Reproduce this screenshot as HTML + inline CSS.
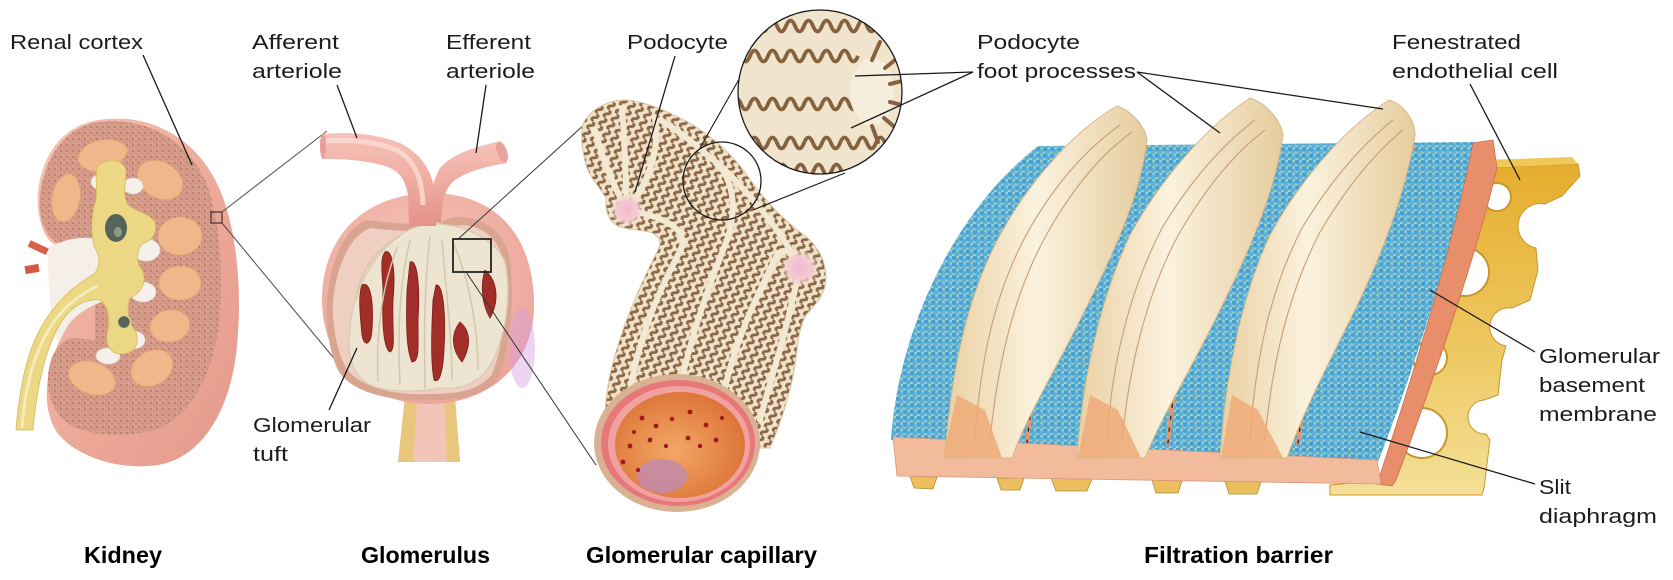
<!DOCTYPE html>
<html><head><meta charset="utf-8"><style>
html,body{margin:0;padding:0;background:#fff;}
svg{display:block;}
text{font-family:"Liberation Sans",sans-serif;fill:#1c1c1c;}
.lb{font-size:20.5px;}
.bt{font-size:23px;font-weight:bold;fill:#000;}
.ln{stroke:#1a1a1a;stroke-width:1.3;fill:none;}
</style></head><body>
<svg width="1673" height="580" viewBox="0 0 1673 580" xmlns="http://www.w3.org/2000/svg">
<defs>
  <linearGradient id="capsG" x1="0" y1="0" x2="1" y2="1">
    <stop offset="0" stop-color="#f5c4b4"/><stop offset="0.6" stop-color="#eca696"/><stop offset="1" stop-color="#e39a8c"/>
  </linearGradient>
  <pattern id="speck" patternUnits="userSpaceOnUse" width="6" height="6">
    <rect width="6" height="6" fill="#d59a88"/>
    <circle cx="1" cy="1" r="0.9" fill="#b0705f"/>
    <circle cx="4" cy="3.5" r="0.8" fill="#c2857a"/>
    <circle cx="2.5" cy="5" r="0.6" fill="#e6b8a6"/>
  </pattern>
  <radialGradient id="glomG" cx="0.45" cy="0.4" r="0.6">
    <stop offset="0" stop-color="#f8ccc2"/><stop offset="1" stop-color="#eca69a"/>
  </radialGradient>
  <linearGradient id="artG" x1="0" y1="0" x2="0" y2="1">
    <stop offset="0" stop-color="#f6c2b8"/><stop offset="0.5" stop-color="#f0aca2"/><stop offset="1" stop-color="#e39288"/>
  </linearGradient>
  <pattern id="wav" patternUnits="userSpaceOnUse" width="9" height="9" patternTransform="rotate(-62)">
    <rect width="9" height="9" fill="#efe2c8"/>
    <path d="M0,4.5 Q2.25,0 4.5,4.5 T9,4.5" stroke="#8a6546" stroke-width="2.8" fill="none"/>
  </pattern>
  <radialGradient id="podoG" cx="0.5" cy="0.5" r="0.5">
    <stop offset="0" stop-color="#f2b8cc"/><stop offset="0.6" stop-color="#f4cad4"/><stop offset="1" stop-color="#f1e2cc" stop-opacity="0"/>
  </radialGradient>
  <radialGradient id="lumG" cx="0.45" cy="0.55" r="0.6">
    <stop offset="0" stop-color="#f2a866"/><stop offset="1" stop-color="#dc7136"/>
  </radialGradient>
  <pattern id="dots" patternUnits="userSpaceOnUse" width="7" height="6.4">
    <rect width="7" height="6.4" fill="#9fd0c2"/>
    <circle cx="1.75" cy="1.6" r="2.7" fill="#45a0d8"/>
    <circle cx="5.25" cy="4.8" r="2.7" fill="#5cb0d8"/>
  </pattern>
  <linearGradient id="ridgeG" x1="0" y1="0" x2="1" y2="0">
    <stop offset="0" stop-color="#ead0a2"/><stop offset="0.45" stop-color="#fbf2de"/><stop offset="1" stop-color="#e6cc9e"/>
  </linearGradient>
  <linearGradient id="yelG" x1="0" y1="0" x2="0" y2="1">
    <stop offset="0" stop-color="#e5ad2e"/><stop offset="0.55" stop-color="#edc860"/><stop offset="1" stop-color="#f4e098"/>
  </linearGradient>
  <clipPath id="capClip">
    <path d="M583,124 C588,112 605,101 622,100 C640,100 660,108 680,118 C705,130 728,150 745,172 C760,195 778,215 800,232 C815,242 826,258 826,278 C826,295 815,305 806,315 C798,330 798,345 795,365 C790,395 780,425 770,448 L610,448 C602,420 605,390 615,355 C625,320 640,285 658,250 C662,242 660,236 650,232 C640,230 630,230 620,227 C608,222 605,210 606,198 C600,188 590,178 586,165 C582,150 580,135 583,124 Z"/>
  </clipPath>
  <clipPath id="bigClip"><circle cx="820" cy="92" r="82"/></clipPath>
</defs>

<!-- ================= KIDNEY ================= -->
<path d="M98,120 C150,112 198,138 220,190 C240,238 242,305 236,355 C228,415 200,458 158,465 C118,471 78,456 60,436 C44,418 44,385 52,360 L60,338 L50,300 L55,245 C42,238 36,212 38,192 C42,155 62,126 98,120 Z" fill="url(#capsG)"/>
<path d="M98,122 C145,116 188,140 206,182 C222,225 224,290 218,330 C210,380 190,415 160,428 C130,438 98,436 76,428 C58,420 47,400 48,378 C49,356 58,342 72,338 L95,340 L95,243 L65,246 C48,243 38,220 40,198 C43,160 64,127 98,122 Z" fill="url(#speck)"/>
<g fill="#f0b88a" stroke="#e4a474" stroke-width="0.8">
  <path d="M78,160 C80,138 120,132 128,150 C122,165 110,172 100,172 C90,172 80,168 78,160 Z"/>
  <ellipse cx="66" cy="198" rx="14" ry="24" transform="rotate(10 66 198)"/>
  <ellipse cx="160" cy="180" rx="24" ry="18" transform="rotate(30 160 180)"/>
  <ellipse cx="180" cy="236" rx="22" ry="19"/>
  <ellipse cx="180" cy="283" rx="21" ry="17"/>
  <ellipse cx="170" cy="326" rx="20" ry="16" transform="rotate(-10 170 326)"/>
  <ellipse cx="152" cy="368" rx="22" ry="17" transform="rotate(-30 152 368)"/>
  <ellipse cx="92" cy="378" rx="24" ry="16" transform="rotate(20 92 378)"/>
</g>
<path d="M48,248 C68,236 98,234 110,245 L114,300 C100,300 80,310 68,325 L58,344 C50,320 48,280 48,248 Z" fill="#f6efe8"/>
<g fill="#f6f0ea" stroke="#e2d2c6" stroke-width="0.8">
  <ellipse cx="102" cy="182" rx="11" ry="8"/>
  <ellipse cx="133" cy="186" rx="10" ry="8"/>
  <ellipse cx="146" cy="250" rx="14" ry="11"/>
  <ellipse cx="143" cy="292" rx="13" ry="10"/>
  <ellipse cx="134" cy="340" rx="11" ry="9"/>
  <ellipse cx="108" cy="356" rx="12" ry="8"/>
</g>
<path d="M98,166 C106,158 122,158 126,170 C126,185 122,195 128,205 C136,212 148,212 155,222 C158,234 150,242 142,244 C136,252 136,262 142,270 C148,282 140,294 130,298 C126,310 128,322 136,332 C140,344 134,354 122,354 C110,354 104,344 108,330 C110,318 108,305 100,300 C86,298 72,306 62,321 C48,343 38,376 33,430 L16,430 C19,390 27,350 43,324 C57,300 77,284 94,274 C101,266 100,255 94,246 C90,230 92,212 96,200 C98,190 94,178 98,166 Z" fill="#ecd785" stroke="#d4bd5c" stroke-width="0.8"/>
<path d="M22,428 C25,385 35,348 55,320 C69,302 84,292 98,286" stroke="#f7ebbb" stroke-width="3" fill="none"/>
<ellipse cx="116" cy="228" rx="11" ry="14" fill="#56645a"/>
<ellipse cx="118" cy="232" rx="4" ry="5" fill="#8c9a88"/>
<circle cx="124" cy="322" r="6.5" fill="#56645a" stroke="#e8d582" stroke-width="1.5"/>
<rect x="28" y="244" width="20" height="7" fill="#d8604c" transform="rotate(25 38 248)"/>
<rect x="25" y="265" width="14" height="8" fill="#d45a48" transform="rotate(-10 32 269)"/>
<rect x="211" y="212" width="11" height="11" fill="none" stroke="#4a3a36" stroke-width="1.3"/>
<line x1="222" y1="212" x2="327" y2="131" stroke="#555" stroke-width="1.1"/>
<line x1="222" y1="223" x2="337" y2="362" stroke="#555" stroke-width="1.1"/>

<!-- ================= GLOMERULUS ================= -->
<path d="M405,396 L455,396 L460,462 L398,462 Z" fill="#f1c6b8"/>
<path d="M405,398 L417,398 L413,462 L398,462 Z" fill="#e8c67c"/>
<path d="M444,398 L455,398 L460,462 L447,462 Z" fill="#e8c67c"/>
<path d="M322,300 C322,240 360,195 430,193 C500,193 534,240 534,305 C534,360 495,403 430,404 C365,404 322,360 322,300 Z" fill="url(#glomG)"/>
<ellipse cx="522" cy="348" rx="13" ry="40" fill="#d6a0e2" opacity="0.45"/>
<path d="M327,300 C330,260 345,228 367,220 C385,222 400,224 418,224 L437,224 C447,218 457,215 470,218 C490,222 505,235 510,260 C515,300 510,350 498,378 C485,396 460,400 430,400 C390,402 350,392 338,370 C328,350 326,320 327,300 Z" fill="#d9a591"/>
<path d="M333,302 C336,266 350,236 370,228 C386,230 402,231 420,231 L437,231 C448,226 458,224 470,226 C488,230 500,242 504,264 C508,302 503,348 492,374 C480,390 458,394 430,394 C393,396 356,386 345,366 C336,348 332,322 333,302 Z" fill="#efcfc2"/>
<path d="M437,224 C460,224 495,238 505,262 C512,295 506,335 492,362 C482,382 462,390 440,388 C420,392 398,392 378,388 C356,382 346,362 350,330 C352,295 370,255 405,232 C415,226 427,224 437,224 Z" fill="#ede5d1" stroke="#d6cbb0" stroke-width="1.2"/>
<g fill="#a12e28" stroke="#7e1e18" stroke-width="0.8">
  <path d="M362,285 C370,280 374,300 372,330 C371,345 364,348 362,335 C360,315 358,295 362,285 Z"/>
  <path d="M385,252 C392,248 396,270 393,300 C392,330 396,350 390,352 C383,348 382,320 383,290 C382,270 380,258 385,252 Z"/>
  <path d="M410,262 C418,258 420,290 418,320 C418,345 420,362 412,362 C406,350 406,320 407,290 Z"/>
  <path d="M436,285 C444,283 446,320 444,350 C443,370 440,384 434,380 C430,360 432,320 433,300 Z"/>
  <path d="M460,322 C470,330 472,345 462,362 C452,350 450,335 460,322 Z"/>
  <path d="M485,270 C497,280 500,300 490,318 C482,305 480,285 485,270 Z"/>
</g>
<g fill="none" stroke="#d2c7ab" stroke-width="1.5">
  <path d="M356,300 C360,270 375,250 400,236"/>
  <path d="M378,382 C376,340 380,290 398,246"/>
  <path d="M400,385 C398,340 398,290 410,240"/>
  <path d="M425,388 C424,340 424,290 430,236"/>
  <path d="M452,380 C452,340 446,290 442,240"/>
  <path d="M478,370 C478,330 470,280 452,240"/>
</g>
<path d="M497,142 L507,163 C490,166 470,170 455,180 C445,188 442,200 441,222 L429,222 C429,200 432,182 440,168 C452,155 470,148 497,142 Z" fill="url(#artG)"/>
<ellipse cx="502" cy="152" rx="5" ry="11" transform="rotate(-20 502 152)" fill="#e9a39a"/>
<path d="M322,134 C345,132 375,133 400,143 C420,153 433,170 435,195 L436,226 L409,226 L408,195 C405,178 398,170 385,166 C365,160 345,159 322,159 Z" fill="url(#artG)"/>
<path d="M324,141 C350,139 380,142 398,151 C415,161 422,178 423,205" stroke="#fbdcd4" stroke-width="5" fill="none" opacity="0.8"/>
<ellipse cx="323" cy="146" rx="3" ry="12.5" fill="#e6a098"/>
<rect x="453" y="239" width="38" height="33" fill="none" stroke="#222" stroke-width="1.8"/>
<line x1="457" y1="240" x2="585" y2="124" stroke="#333" stroke-width="1"/>
<line x1="466" y1="272" x2="596" y2="465" stroke="#333" stroke-width="1"/>

<!-- ================= CAPILLARY ================= -->
<path d="M583,124 C588,112 605,101 622,100 C640,100 660,108 680,118 C705,130 728,150 745,172 C760,195 778,215 800,232 C815,242 826,258 826,278 C826,295 815,305 806,315 C798,330 798,345 795,365 C790,395 780,425 770,448 L610,448 C602,420 605,390 615,355 C625,320 640,285 658,250 C662,242 660,236 650,232 C640,230 630,230 620,227 C608,222 605,210 606,198 C600,188 590,178 586,165 C582,150 580,135 583,124 Z" fill="url(#wav)" stroke="#d9c7a6" stroke-width="1"/>
<g clip-path="url(#capClip)" stroke="#f3e8d2" stroke-width="6" fill="none" stroke-linecap="round">
  <path d="M628,400 C640,330 660,290 680,251 C690,232 670,218 627,210"/>
  <path d="M677,400 C690,340 705,295 727,240 C740,200 730,170 707,155 C690,140 675,128 660,120"/>
  <path d="M722,400 C735,340 755,300 777,255 C785,245 795,255 800,266"/>
  <path d="M760,420 C770,380 785,340 800,266"/>
  <path d="M627,210 C610,180 600,150 595,130"/>
  <path d="M627,210 C625,170 625,140 622,108"/>
  <path d="M627,210 C650,180 660,150 655,118"/>
  <path d="M720,165 C745,190 770,215 800,266"/>
</g>
<circle cx="627" cy="210" r="17" fill="url(#podoG)"/>
<circle cx="800" cy="268" r="19" fill="url(#podoG)"/>
<ellipse cx="677" cy="443" rx="83" ry="69" fill="#dbb194"/>
<ellipse cx="678" cy="443" rx="77" ry="63" fill="#e6787a"/>
<ellipse cx="679" cy="444" rx="71" ry="58" fill="#f1a2a0"/>
<ellipse cx="680" cy="445" rx="65" ry="53" fill="url(#lumG)"/>
<ellipse cx="662" cy="476" rx="25" ry="17" fill="#c08ab2" opacity="0.8"/>
<g fill="#a3181a">
  <circle cx="642" cy="418" r="2.4"/><circle cx="656" cy="426" r="2.4"/><circle cx="672" cy="419" r="2.2"/>
  <circle cx="690" cy="412" r="2.4"/><circle cx="706" cy="425" r="2.4"/><circle cx="650" cy="440" r="2.4"/>
  <circle cx="666" cy="446" r="2.2"/><circle cx="688" cy="438" r="2.4"/><circle cx="630" cy="446" r="2.4"/>
  <circle cx="623" cy="462" r="2.4"/><circle cx="638" cy="470" r="2.2"/><circle cx="700" cy="446" r="2.2"/>
  <circle cx="716" cy="440" r="2.4"/><circle cx="722" cy="418" r="2"/><circle cx="634" cy="432" r="2"/>
</g>
<circle cx="722" cy="181" r="39" fill="none" stroke="#1a1a1a" stroke-width="1.3"/>
<line x1="700" y1="148" x2="742" y2="74" stroke="#1a1a1a" stroke-width="1.1"/>
<line x1="753" y1="210" x2="845" y2="173" stroke="#1a1a1a" stroke-width="1.1"/>

<!-- big magnifier -->
<g clip-path="url(#bigClip)">
  <rect x="730" y="0" width="180" height="180" fill="#f0e4cc"/>
  <g stroke="#86613f" stroke-width="3.8" fill="none">
    <path d="M732,26 q4.5,-11 9,0 t9,0 t9,0 t9,0 t9,0 t9,0 t9,0 t9,0 t9,0 t9,0 t9,0 t9,0 t9,0 t9,0 t9,0 t9,0 t9,0 t9,0 t9,0 t9,0"/>
    <path d="M732,56 q4.5,-11 9,0 t9,0 t9,0 t9,0 t9,0 t9,0 t9,0 t9,0 t9,0 t9,0 t9,0 t9,0 t9,0 t9,0"/>
    <path d="M732,104 q4.5,-11 9,0 t9,0 t9,0 t9,0 t9,0 t9,0 t9,0 t9,0 t9,0 t9,0 t9,0 t9,0 t9,0 t9,0"/>
    <path d="M732,143 q4.5,-11 9,0 t9,0 t9,0 t9,0 t9,0 t9,0 t9,0 t9,0 t9,0 t9,0 t9,0 t9,0 t9,0 t9,0 t9,0 t9,0 t9,0 t9,0 t9,0 t9,0"/>
    <path d="M760,170 q4.5,-11 9,0 t9,0 t9,0 t9,0 t9,0 t9,0 t9,0 t9,0 t9,0 t9,0"/>
  </g>
  <ellipse cx="872" cy="92" rx="22" ry="34" fill="#f6eedd"/>
  <g stroke="#86613f" stroke-width="4" stroke-linecap="round">
    <line x1="872" y1="60" x2="880" y2="42"/><line x1="885" y1="68" x2="900" y2="56"/>
    <line x1="890" y1="84" x2="906" y2="80"/><line x1="890" y1="102" x2="906" y2="106"/>
    <line x1="884" y1="118" x2="898" y2="130"/><line x1="872" y1="126" x2="878" y2="142"/>
  </g>
</g>
<circle cx="820" cy="92" r="82" fill="none" stroke="#1a1a1a" stroke-width="1.3"/>

<!-- ================= FILTRATION BARRIER ================= -->
<path d="M1485,168 L1578,164 L1580,176 L1562,196 L1545,204 A20,20 0 0 0 1536,248 L1538,270 L1530,300 L1512,308 A19,19 0 0 0 1506,346 L1502,360 L1498,395 L1484,400 A17,17 0 0 0 1486,434 L1490,440 L1484,488 L1482,495 L1330,495 L1330,485 L1385,480 C1420,400 1460,270 1485,168 Z" fill="url(#yelG)" stroke="#c9962a" stroke-width="1"/>
<path d="M1485,160 L1572,157 L1578,164 L1485,168 Z" fill="#f0c85a"/>
<g fill="#fff" stroke="#c9962a" stroke-width="2">
  <circle cx="1497" cy="197" r="14"/>
  <circle cx="1465" cy="272" r="24"/>
  <circle cx="1430" cy="358" r="17"/>
  <circle cx="1422" cy="433" r="25"/>
</g>
<path d="M891,440 C898,330 955,210 1038,146 L1475,142 C1450,260 1410,380 1378,462 Z" fill="url(#dots)"/>
<g fill="none" stroke-linecap="round">
  <path d="M1027,443 C1035,360 1060,270 1100,200 C1115,175 1130,158 1146,148" stroke="#e8956a" stroke-width="4"/>
  <path d="M1168,443 C1175,360 1200,270 1240,200 C1255,175 1265,158 1277,148" stroke="#e8956a" stroke-width="4"/>
  <path d="M1298,443 C1308,360 1333,270 1372,200 C1390,175 1400,158 1413,148" stroke="#e8956a" stroke-width="4"/>
  <path d="M1027,443 C1035,360 1060,270 1100,200 C1115,175 1130,158 1146,148" stroke="#2a2a2a" stroke-width="1.4" stroke-dasharray="3 9"/>
  <path d="M1168,443 C1175,360 1200,270 1240,200 C1255,175 1265,158 1277,148" stroke="#2a2a2a" stroke-width="1.4" stroke-dasharray="3 9"/>
  <path d="M1298,443 C1308,360 1333,270 1372,200 C1390,175 1400,158 1413,148" stroke="#2a2a2a" stroke-width="1.4" stroke-dasharray="3 9"/>
</g>
<path d="M1473,143 L1493,140 L1497,168 C1475,260 1430,390 1396,480 L1392,486 L1377,484 C1405,400 1450,260 1473,143 Z" fill="#e88e6b" stroke="#c8704e" stroke-width="0.8"/>
<g fill="#ebbf5e" stroke="#b98a28" stroke-width="0.8">
  <path d="M910,476 L937,477 L933,489 L914,488 Z"/>
  <path d="M997,478 L1024,478 L1020,490 L1001,490 Z"/>
  <path d="M1051,478 L1092,479 L1087,491 L1056,491 Z"/>
  <path d="M1152,480 L1182,481 L1178,493 L1156,493 Z"/>
  <path d="M1225,481 L1261,482 L1257,494 L1229,494 Z"/>
</g>
<path d="M893,437 L1377,460 L1381,484 L897,476 Z" fill="#f2bb9c" stroke="#d9987a" stroke-width="0.8"/>
<g fill="url(#ridgeG)" stroke="#d6b98a" stroke-width="1">
  <path d="M945,458 C950,380 965,300 1000,235 C1030,180 1075,130 1117,106 C1130,110 1145,125 1147,140 C1140,200 1110,260 1080,320 C1050,380 1025,420 1012,458 Z"/>
  <path d="M1077,458 C1082,380 1100,300 1130,235 C1160,180 1205,128 1250,98 C1265,103 1280,118 1283,135 C1275,195 1245,260 1215,320 C1185,380 1160,420 1145,458 Z"/>
  <path d="M1220,458 C1225,380 1240,300 1270,235 C1300,180 1345,128 1389,100 C1402,104 1415,118 1415,135 C1405,195 1380,260 1350,320 C1320,380 1300,420 1287,458 Z"/>
</g>
<g stroke="#c9a27c" stroke-width="1.2" fill="none">
  <path d="M975,440 C980,360 995,290 1030,228 C1055,185 1085,150 1120,125"/>
  <path d="M990,440 C998,360 1015,290 1048,232 C1072,190 1100,155 1132,132"/>
  <path d="M1107,440 C1112,360 1130,290 1162,228 C1188,185 1218,148 1255,120"/>
  <path d="M1122,440 C1130,360 1148,290 1180,232 C1205,190 1232,155 1265,130"/>
  <path d="M1250,440 C1255,360 1270,290 1302,228 C1328,185 1358,148 1393,120"/>
  <path d="M1265,440 C1272,360 1290,290 1320,232 C1345,190 1372,155 1403,130"/>
</g>
<g fill="#eeaa78" opacity="0.85">
  <path d="M957,395 L943,458 L1002,458 L985,410 Z"/>
  <path d="M1090,395 L1078,458 L1141,458 L1118,410 Z"/>
  <path d="M1232,395 L1221,458 L1283,458 L1258,410 Z"/>
</g>

<!-- ================= LABEL LINES ================= -->
<line class="ln" x1="143" y1="55" x2="192" y2="165"/>
<line class="ln" x1="337" y1="85" x2="357" y2="138"/>
<line class="ln" x1="486" y1="85" x2="476" y2="153"/>
<line class="ln" x1="329" y1="410" x2="357" y2="348"/>
<line class="ln" x1="675" y1="56" x2="635" y2="192"/>
<polyline class="ln" points="855,76 973,72 851,128"/>
<polyline class="ln" points="1220,133 1137,72 1383,109"/>
<line class="ln" x1="1470" y1="84" x2="1520" y2="180"/>
<line class="ln" x1="1430" y1="290" x2="1535" y2="352"/>
<line class="ln" x1="1360" y1="432" x2="1535" y2="484"/>

<!-- ================= TEXT ================= -->
<text class="lb" x="10" y="49" textLength="133" lengthAdjust="spacingAndGlyphs">Renal cortex</text>
<text class="lb" x="252" y="49" textLength="87" lengthAdjust="spacingAndGlyphs">Afferent</text>
<text class="lb" x="252" y="78" textLength="90" lengthAdjust="spacingAndGlyphs">arteriole</text>
<text class="lb" x="446" y="49" textLength="85" lengthAdjust="spacingAndGlyphs">Efferent</text>
<text class="lb" x="446" y="78" textLength="89" lengthAdjust="spacingAndGlyphs">arteriole</text>
<text class="lb" x="627" y="49" textLength="101" lengthAdjust="spacingAndGlyphs">Podocyte</text>
<text class="lb" x="977" y="49" textLength="103" lengthAdjust="spacingAndGlyphs">Podocyte</text>
<text class="lb" x="977" y="78" textLength="159" lengthAdjust="spacingAndGlyphs">foot processes</text>
<text class="lb" x="1392" y="49" textLength="129" lengthAdjust="spacingAndGlyphs">Fenestrated</text>
<text class="lb" x="1392" y="78" textLength="166" lengthAdjust="spacingAndGlyphs">endothelial cell</text>
<text class="lb" x="1539" y="363" textLength="121" lengthAdjust="spacingAndGlyphs">Glomerular</text>
<text class="lb" x="1539" y="392" textLength="106" lengthAdjust="spacingAndGlyphs">basement</text>
<text class="lb" x="1539" y="421" textLength="118" lengthAdjust="spacingAndGlyphs">membrane</text>
<text class="lb" x="1539" y="494" textLength="32" lengthAdjust="spacingAndGlyphs">Slit</text>
<text class="lb" x="1539" y="523" textLength="118" lengthAdjust="spacingAndGlyphs">diaphragm</text>
<text class="lb" x="253" y="432" textLength="118" lengthAdjust="spacingAndGlyphs">Glomerular</text>
<text class="lb" x="253" y="461" textLength="35" lengthAdjust="spacingAndGlyphs">tuft</text>

<text class="bt" x="84" y="563" textLength="78" lengthAdjust="spacingAndGlyphs">Kidney</text>
<text class="bt" x="361" y="563" textLength="129" lengthAdjust="spacingAndGlyphs">Glomerulus</text>
<text class="bt" x="586" y="563" textLength="231" lengthAdjust="spacingAndGlyphs">Glomerular capillary</text>
<text class="bt" x="1144" y="563" textLength="189" lengthAdjust="spacingAndGlyphs">Filtration barrier</text>
</svg>
</body></html>
